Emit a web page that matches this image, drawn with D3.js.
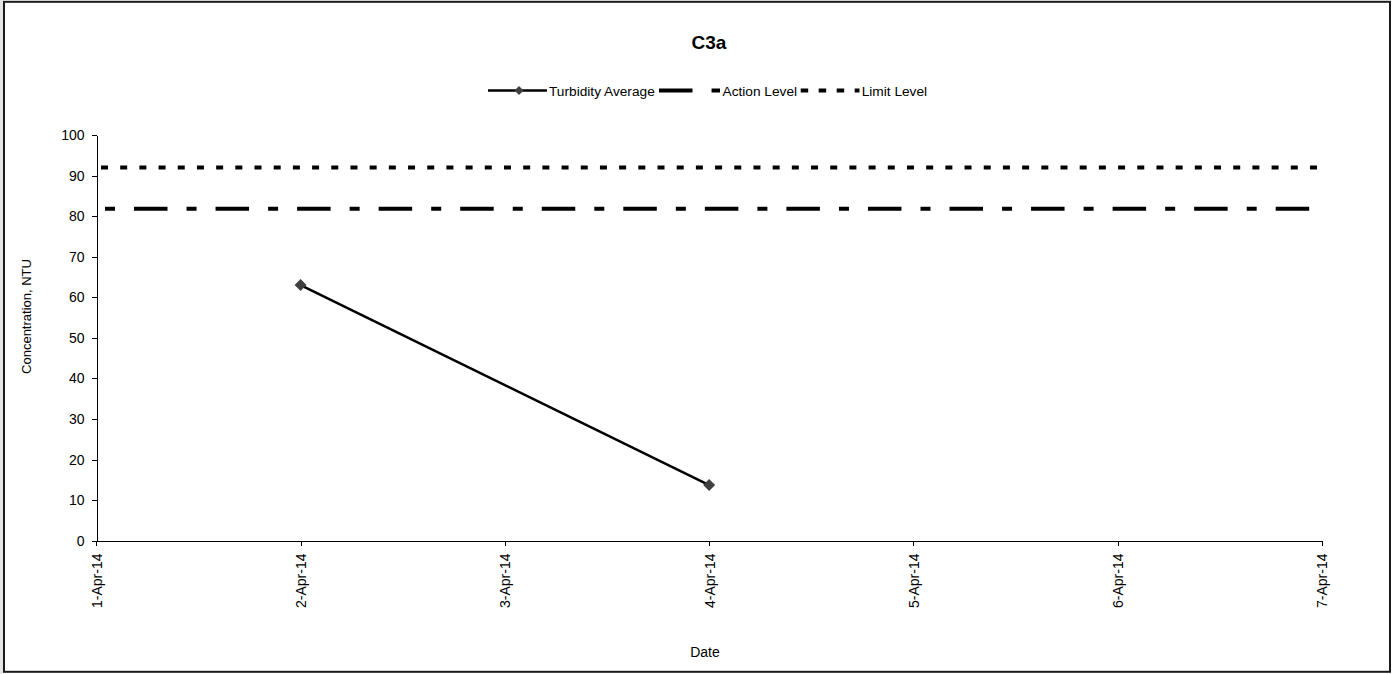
<!DOCTYPE html>
<html><head><meta charset="utf-8">
<script src="https://cdn.jsdelivr.net/npm/d3@7"></script>
<style>
body{margin:0;background:#fff}
svg{display:block;font-family:"Liberation Sans",Arial,sans-serif}
</style>
</head><body>
<svg id="c" width="1395" height="674"></svg>
<script>
const axisDates = ["2014-04-01","2014-04-02","2014-04-03","2014-04-04","2014-04-05","2014-04-06","2014-04-07"];
const turbidityDates = ["2014-04-02","2014-04-04"];
const turbidityValues = [63.0, 13.7];
const levelDates = ["2014-04-01","2014-04-07"];
const actionLevel = [81.8, 81.8];
const limitLevel = [92, 92];
const yTicks = [0,10,20,30,40,50,60,70,80,90,100];
const seriesNames = ["Turbidity Average","Action Level","Limit Level"];
const chartTitle = "C3a";
const xTitle = "Date";
const yTitle = "Concentration, NTU";

const parse = d3.timeParse("%Y-%m-%d");
const svg = d3.select("#c");

const x = d3.scaleTime().domain([parse(axisDates[0]), parse(axisDates[axisDates.length-1])]).range([96.3, 1322]);
const y = d3.scaleLinear().domain([0,100]).range([540.7, 135]);

// frame
svg.append("rect").attr("x",0).attr("y",0).attr("width",3).attr("height",674).attr("fill","#e4e4e4");
svg.append("rect").attr("x",4).attr("y",1.8).attr("width",1386).attr("height",670)
  .attr("fill","none").attr("stroke","#1a1a1a").attr("stroke-width",2);

// title
svg.append("text").attr("x",709).attr("y",48.5).attr("text-anchor","middle")
  .attr("font-size",19).attr("font-weight","bold").text(chartTitle);

// axes
const yAxis = svg.append("g").attr("transform","translate(96.5,0)")
  .call(d3.axisLeft(y).tickValues(yTicks).tickSize(5).tickSizeOuter(0).tickPadding(7));
yAxis.selectAll("text").attr("font-size",14).attr("fill","#000").attr("font-family",null);
yAxis.selectAll("line,path").attr("stroke","#000").attr("shape-rendering","crispEdges");

const xAxis = svg.append("g").attr("transform","translate(0,540.5)")
  .call(d3.axisBottom(x).tickValues(axisDates.map(parse)).tickFormat(d3.timeFormat("%-d-%b-%y")).tickSize(5).tickSizeOuter(0));
xAxis.selectAll("line,path").attr("stroke","#000").attr("shape-rendering","crispEdges");
xAxis.selectAll("text").attr("font-size",14).attr("fill","#000")
  .attr("text-anchor","end").attr("transform","translate(0,13) rotate(-90)")
  .attr("x",0).attr("y",0).attr("dy","0.35em");

// axis titles
svg.append("text").attr("x",705).attr("y",657).attr("text-anchor","middle").attr("font-size",14).text(xTitle);
svg.append("text").attr("transform","translate(31,316.5) rotate(-90)").attr("text-anchor","middle")
  .attr("font-size",13).text(yTitle);

// level lines
const lvl = (vals) => d3.line().x((d,i)=>x(parse(levelDates[i]))).y(d=>y(d))(vals);
svg.append("path").attr("d",lvl(limitLevel)).attr("fill","none").attr("stroke","#000")
  .attr("stroke-width",4).attr("stroke-dasharray","7,12.19").attr("stroke-dashoffset",14.49);
svg.append("path").attr("d",lvl(actionLevel)).attr("fill","none").attr("stroke","#000")
  .attr("stroke-width",4).attr("stroke-dasharray","10,19,33.5,19.05").attr("stroke-dashoffset",72.85);

// turbidity
const tData = turbidityDates.map((d,i)=>({d:parse(d), v:turbidityValues[i]}));
svg.append("path").attr("d", d3.line().x(d=>x(d.d)).y(d=>y(d.v))(tData))
  .attr("fill","none").attr("stroke","#000").attr("stroke-width",2.6);
const diamond = (r) => `M0,${-r}L${r},0L0,${r}L${-r},0Z`;
svg.selectAll(".pt").data(tData).enter().append("path").attr("class","pt")
  .attr("d",diamond(6)).attr("transform",d=>`translate(${x(d.d)},${y(d.v)})`).attr("fill","#404040");

// legend
const lg = svg.append("g").attr("font-size",13.7);
const ly = 90.5;
// item 1
lg.append("line").attr("x1",488).attr("x2",547).attr("y1",ly).attr("y2",ly).attr("stroke","#000").attr("stroke-width",2.6);
lg.append("path").attr("d",diamond(4.5)).attr("transform",`translate(519,${ly})`).attr("fill","#404040");
lg.append("text").attr("x",549).attr("y",ly+5).text(seriesNames[0]);
// item 2
lg.append("line").attr("x1",659).attr("x2",720).attr("y1",ly).attr("y2",ly).attr("stroke","#000").attr("stroke-width",4)
  .attr("stroke-dasharray","10,19,33.5,19.05").attr("stroke-dashoffset",29);
lg.append("text").attr("x",722.5).attr("y",ly+5).text(seriesNames[1]);
// item 3
lg.append("line").attr("x1",800.7).attr("x2",859.5).attr("y1",ly).attr("y2",ly).attr("stroke","#000").attr("stroke-width",4)
  .attr("stroke-dasharray","7.5,10.5");
lg.append("text").attr("x",861.7).attr("y",ly+5).text(seriesNames[2]);
</script>
</body></html>
